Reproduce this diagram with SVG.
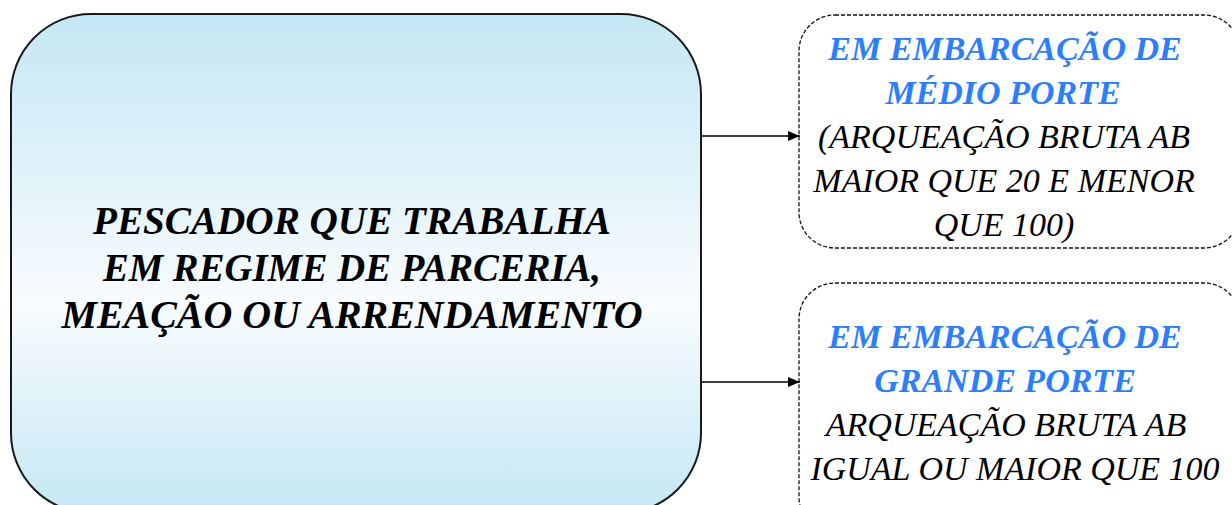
<svg xmlns="http://www.w3.org/2000/svg" width="1232" height="505" viewBox="0 0 1232 505">
<defs>
<linearGradient id="g" x1="0" y1="0" x2="0" y2="1">
<stop offset="0" stop-color="#c4e7f4"/>
<stop offset="0.58" stop-color="#f8fcfe"/>
<stop offset="1" stop-color="#c4e7f4"/>
</linearGradient>
<marker id="ah" viewBox="0 0 12 10" refX="12" refY="5" markerWidth="12" markerHeight="10" markerUnits="userSpaceOnUse" orient="auto">
<path d="M0,0 L12,5 L0,10 Z" fill="#000"/>
</marker>
</defs>
<style>
.main{font-family:"Liberation Serif","Times New Roman",serif;font-weight:bold;font-style:italic;font-size:41px;fill:#000;text-anchor:middle}
.blue{font-family:"Liberation Serif","Times New Roman",serif;font-weight:bold;font-style:italic;font-size:34px;fill:#2b7fff;text-anchor:middle}
.blk{font-family:"Liberation Serif","Times New Roman",serif;font-style:italic;font-size:34px;fill:#000;text-anchor:middle}
.dash{fill:#fff;stroke:#111;stroke-width:1.3;stroke-dasharray:4 2}
.conn{stroke:#000;stroke-width:1.5;fill:none}
</style>
<g id="main">
<rect x="11" y="14" width="690" height="499" rx="80" ry="80" fill="url(#g)" stroke="#1a1a1a" stroke-width="2"/>
<text class="main" x="352" y="234" textLength="518" lengthAdjust="spacingAndGlyphs">PESCADOR QUE TRABALHA</text>
<text class="main" x="352" y="281" textLength="498" lengthAdjust="spacingAndGlyphs">EM REGIME DE PARCERIA,</text>
<text class="main" x="352" y="328" textLength="581" lengthAdjust="spacingAndGlyphs">MEAÇÃO OU ARRENDAMENTO</text>
</g>
<g id="medio">
<rect class="dash" x="799" y="15" width="441" height="233" rx="36" ry="36"/>
<text class="blue" x="1005" y="60">EM EMBARCAÇÃO DE</text>
<text class="blue" x="1003" y="104">MÉDIO PORTE</text>
<text class="blk" x="1004" y="148">(ARQUEAÇÃO BRUTA AB</text>
<text class="blk" x="1004" y="192">MAIOR QUE 20 E MENOR</text>
<text class="blk" x="1004" y="236">QUE 100)</text>
</g>
<g id="grande">
<rect class="dash" x="799" y="283" width="441" height="250" rx="36" ry="36"/>
<text class="blue" x="1005" y="348">EM EMBARCAÇÃO DE</text>
<text class="blue" x="1005" y="392">GRANDE PORTE</text>
<text class="blk" x="1006" y="436">ARQUEAÇÃO BRUTA AB</text>
<text class="blk" x="1015" y="480">IGUAL OU MAIOR QUE 100</text>
</g>
<g id="connectors">
<line class="conn" x1="701" y1="136" x2="800" y2="136" marker-end="url(#ah)"/>
<line class="conn" x1="701" y1="382" x2="800" y2="382" marker-end="url(#ah)"/>
</g>
</svg>
